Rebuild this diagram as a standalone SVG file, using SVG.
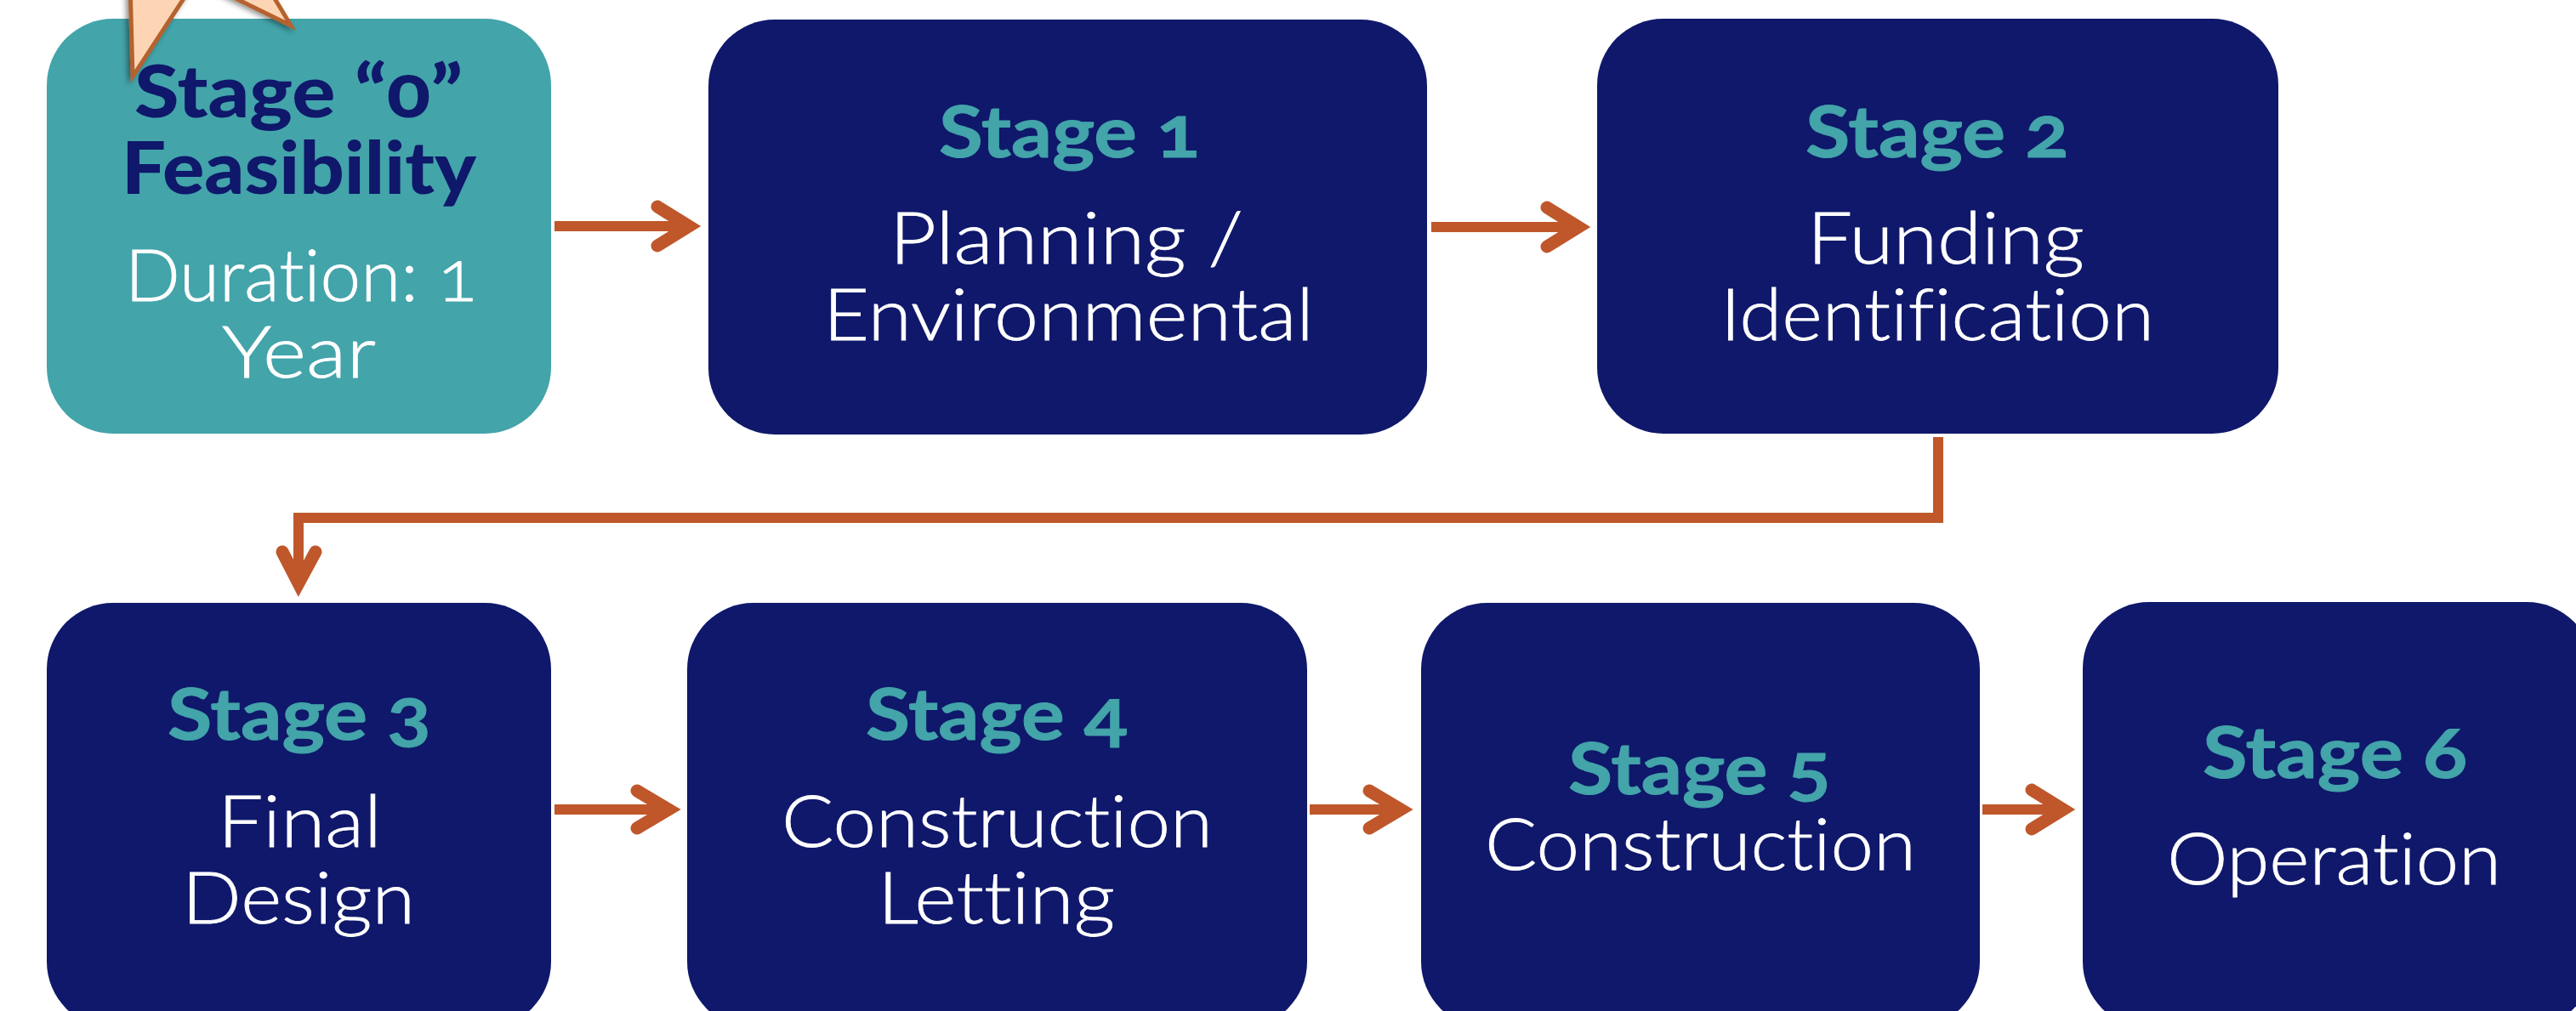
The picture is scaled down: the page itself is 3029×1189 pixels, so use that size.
<svg xmlns="http://www.w3.org/2000/svg" width="3029" height="1189" viewBox="0 0 3029 1189">
<style>
.box{fill:#0f186a}
.teal{fill:#43a4aa}
text{font-family:"Lato","Noto Sans",sans-serif;font-size:85px;font-feature-settings:"onum" 1;font-variant-ligatures:none}
.h{font-weight:700;fill:#43a4aa;stroke:#43a4aa;stroke-width:1}
.h0{font-weight:900;fill:#0f186a}
.b{font-weight:300;fill:#fff;stroke:#fff;stroke-width:.8}
.ln{fill:none;stroke:#bf572b;stroke-width:12}
.hd{fill:none;stroke:#bf572b;stroke-width:15;stroke-linecap:round;stroke-linejoin:miter}
</style>
<defs><filter id="sh" x="-30%" y="-30%" width="160%" height="160%"><feDropShadow dx="-3" dy="2" stdDeviation="3" flood-color="#000" flood-opacity="0.45"/></filter></defs>
<rect width="3029" height="1189" fill="#fff"/>
<g id="stage0"><rect class="teal" x="55" y="22" width="593" height="488" rx="78"/>
<text class="h0" x="158" y="138" textLength="386" lengthAdjust="spacingAndGlyphs">Stage “0”</text>
<text class="h0" x="143" y="228" textLength="417" lengthAdjust="spacingAndGlyphs">Feasibility</text>
<text class="b" x="147" y="354" textLength="414" lengthAdjust="spacingAndGlyphs">Duration: 1</text>
<text class="b" x="261" y="444" textLength="181" lengthAdjust="spacingAndGlyphs">Year</text></g>
<g id="stage1"><rect class="box" x="833" y="23" width="845" height="488" rx="78"/>
<text class="h" x="1104" y="185" textLength="307" lengthAdjust="spacingAndGlyphs">Stage 1</text>
<text class="b" x="1046" y="310" textLength="416" lengthAdjust="spacingAndGlyphs">Planning /</text>
<text class="b" x="968" y="400" textLength="577" lengthAdjust="spacingAndGlyphs">Environmental</text></g>
<g id="stage2"><rect class="box" x="1878" y="22" width="801" height="488" rx="78"/>
<text class="h" x="2123" y="185" textLength="310" lengthAdjust="spacingAndGlyphs">Stage 2</text>
<text class="b" x="2125" y="310" textLength="326" lengthAdjust="spacingAndGlyphs">Funding</text>
<text class="b" x="2023" y="400" textLength="510" lengthAdjust="spacingAndGlyphs">Identification</text></g>
<g id="stage3"><rect class="box" x="55" y="709" width="593" height="500" rx="78"/>
<text class="h" x="197" y="870" textLength="310" lengthAdjust="spacingAndGlyphs">Stage 3</text>
<text class="b" x="256" y="996" textLength="193" lengthAdjust="spacingAndGlyphs">Final</text>
<text class="b" x="214" y="1086" textLength="274" lengthAdjust="spacingAndGlyphs">Design</text></g>
<g id="stage4"><rect class="box" x="808" y="709" width="729" height="500" rx="78"/>
<text class="h" x="1018" y="870" textLength="308" lengthAdjust="spacingAndGlyphs">Stage 4</text>
<text class="b" x="919" y="996" textLength="507" lengthAdjust="spacingAndGlyphs">Construction</text>
<text class="b" x="1032" y="1086" textLength="279" lengthAdjust="spacingAndGlyphs">Letting</text></g>
<g id="stage5"><rect class="box" x="1671" y="709" width="657" height="500" rx="78"/>
<text class="h" x="1844" y="934" textLength="309" lengthAdjust="spacingAndGlyphs">Stage 5</text>
<text class="b" x="1746" y="1023" textLength="507" lengthAdjust="spacingAndGlyphs">Construction</text></g>
<g id="stage6"><rect class="box" x="2449" y="708" width="600" height="501" rx="78"/>
<text class="h" x="2590" y="915" textLength="311" lengthAdjust="spacingAndGlyphs">Stage 6</text>
<text class="b" x="2548" y="1040" textLength="393" lengthAdjust="spacingAndGlyphs">Operation</text></g>
<g id="callout"><polygon points="153,-20 156,90 228,-20" fill="#fdd5b5" stroke="#b5622e" stroke-width="5" filter="url(#sh)"/><polygon points="240,-20 342,30 312,-20" fill="#fdd5b5" stroke="#b5622e" stroke-width="5" filter="url(#sh)"/></g>
<g id="connectors">
<path class="ln" d="M652 266H808"/><path class="hd" d="M773 243L810 266L773 289"/>
<path class="ln" d="M1683 267H1854"/><path class="hd" d="M1819 244L1856 267L1819 290"/>
<path class="ln" d="M652 952H784"/><path class="hd" d="M749 930L786 952L749 974"/>
<path class="ln" d="M1540 952H1646"/><path class="hd" d="M1610 930L1647 952L1610 974"/>
<path class="ln" d="M2331 952H2424"/><path class="hd" d="M2389 929L2426 952L2389 975"/>
<path class="ln" d="M2279 514V609H351V684"/><path class="hd" d="M332 649L351 686L371 649"/>
</g>
</svg>
